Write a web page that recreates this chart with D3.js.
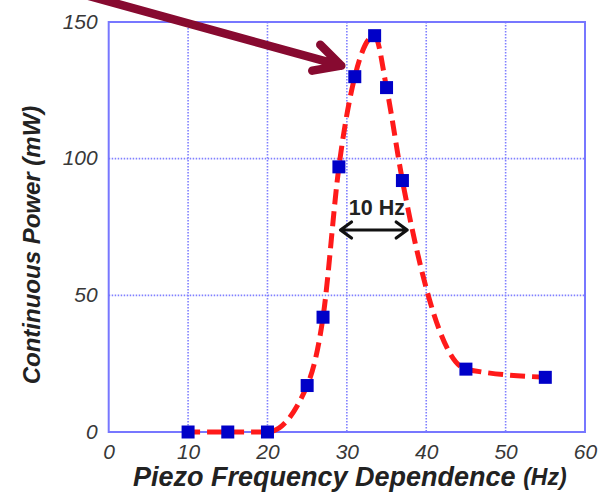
<!DOCTYPE html>
<html>
<head>
<meta charset="utf-8">
<script src="https://cdn.jsdelivr.net/npm/d3@7"></script>
<style>
  html, body { margin: 0; padding: 0; background: #fff; }
  svg { display: block; }
</style>
</head>
<body>
<svg id="chart" width="601" height="494"></svg>
<script>
// Measured piezo output vs. drive frequency
const freqHz = [10, 15, 20, 25, 27, 29, 31, 33.5, 35, 37, 45, 55];
const powerMw = [0, 0, 0, 17, 42, 97, 130, 145, 126, 92, 23, 20];

const xTicks = [0, 10, 20, 30, 40, 50, 60];
const yTicks = [0, 50, 100, 150];
const xTitle = "Piezo Frequency Dependence ";
const xUnit = "(Hz)";
const yTitle = "Continuous Power (mW)";
const bandLabel = "10 Hz";
const bandEdges = [29.2, 37.6];

const svg = d3.select("#chart");
const plot = { left: 108.7, right: 585, top: 22, bottom: 432 };

const x = d3.scaleLinear().domain([0, 60]).range([plot.left, plot.right]);
const y = d3.scaleLinear().domain([0, 150]).range([plot.bottom, plot.top]);

const gridColor = "#8080ff";
const frameColor = "#7777ff";
const font = "'Liberation Sans', Arial, sans-serif";

// dotted grid
const grid = svg.append("g");
grid.selectAll("line.vx").data(xTicks.slice(1, -1)).join("line")
  .attr("x1", d => x(d)).attr("x2", d => x(d))
  .attr("y1", plot.top).attr("y2", plot.bottom)
  .attr("stroke", gridColor).attr("stroke-width", 1.6)
  .attr("stroke-dasharray", "1.5,1.5");
grid.selectAll("line.hy").data(yTicks.slice(1, -1)).join("line")
  .attr("y1", d => y(d)).attr("y2", d => y(d))
  .attr("x1", plot.left).attr("x2", plot.right)
  .attr("stroke", gridColor).attr("stroke-width", 1.6)
  .attr("stroke-dasharray", "1.5,1.5");

// frame
svg.append("rect")
  .attr("x", plot.left).attr("y", plot.top)
  .attr("width", plot.right - plot.left).attr("height", plot.bottom - plot.top)
  .attr("fill", "none").attr("stroke", frameColor).attr("stroke-width", 2);

// axes (labels only, frame drawn above)
const xAxis = d3.axisBottom(x).tickValues(xTicks).tickSize(0).tickPadding(0).tickFormat(d3.format("d"));
const gx = svg.append("g").attr("transform", `translate(0,${plot.bottom})`).call(xAxis);
gx.select(".domain").remove();
gx.selectAll("text")
  .attr("y", 27).attr("dy", 0)
  .attr("font-family", font).attr("font-style", "italic")
  .attr("font-size", 21).attr("fill", "#383838");

const yAxis = d3.axisLeft(y).tickValues(yTicks).tickSize(0).tickPadding(0).tickFormat(d3.format("d"));
const gy = svg.append("g").attr("transform", `translate(${plot.left},0)`).call(yAxis);
gy.select(".domain").remove();
gy.selectAll("text")
  .attr("x", -11).attr("dy", "0.3em")
  .attr("font-family", font).attr("font-style", "italic")
  .attr("font-size", 21).attr("fill", "#383838");

// axis titles
const xt = svg.append("text")
  .attr("x", 133).attr("y", 486)
  .attr("font-family", font).attr("font-style", "italic").attr("font-weight", "bold")
  .attr("font-size", 27).attr("fill", "#222");
xt.append("tspan").text(xTitle);
xt.append("tspan").attr("font-size", 23).attr("dy", -1).text(xUnit);

svg.append("text")
  .attr("transform", "translate(40,245) rotate(-90)")
  .attr("text-anchor", "middle")
  .attr("font-family", font).attr("font-style", "italic").attr("font-weight", "bold")
  .attr("font-size", 24).attr("fill", "#222")
  .text(yTitle);

// dashed fit line through the measurements
const pts = freqHz.map((f, i) => [f, powerMw[i]]);
const line = d3.line().x(d => x(d[0])).y(d => y(d[1])).curve(d3.curveMonotoneX);
svg.append("path")
  .attr("d", line(pts))
  .attr("fill", "none").attr("stroke", "#ff1a1a").attr("stroke-width", 5)
  .attr("stroke-dasharray", "15,7").attr("stroke-dashoffset", 3);

// markers
const ms = 13;
svg.append("g").selectAll("rect").data(pts).join("rect")
  .attr("x", d => x(d[0]) - ms / 2).attr("y", d => y(d[1]) - ms / 2)
  .attr("width", ms).attr("height", ms)
  .attr("fill", "#0000c8");

// bandwidth annotation
const bandY = 230;
const bx0 = x(bandEdges[0]), bx1 = x(bandEdges[1]);
svg.append("path")
  .attr("d", `M${bx0},${bandY}L${bx1},${bandY}` +
             `M${bx0 + 11},${bandY - 8}L${bx0},${bandY}L${bx0 + 11},${bandY + 8}` +
             `M${bx1 - 11},${bandY - 8}L${bx1},${bandY}L${bx1 - 11},${bandY + 8}`)
  .attr("fill", "none").attr("stroke", "#111").attr("stroke-width", 3.2)
  .attr("stroke-linecap", "round").attr("stroke-linejoin", "round");
svg.append("text")
  .attr("x", (bx0 + bx1) / 2 + 3).attr("y", 215)
  .attr("text-anchor", "middle")
  .attr("font-family", font).attr("font-weight", "bold")
  .attr("font-size", 21.5).attr("fill", "#222")
  .text(bandLabel);

// pointer arrow toward the resonance peak
const tip = [x(31) - 13.5, y(130) - 11];
svg.append("path")
  .attr("d", `M60,-12L${tip[0]},${tip[1]}` +
             `M${tip[0] - 21},${tip[1] - 21}L${tip[0]},${tip[1]}L${tip[0] - 29},${tip[1] + 5}`)
  .attr("fill", "none").attr("stroke", "#870a30").attr("stroke-width", 8.5)
  .attr("stroke-linecap", "round").attr("stroke-linejoin", "round");
</script>
</body>
</html>
